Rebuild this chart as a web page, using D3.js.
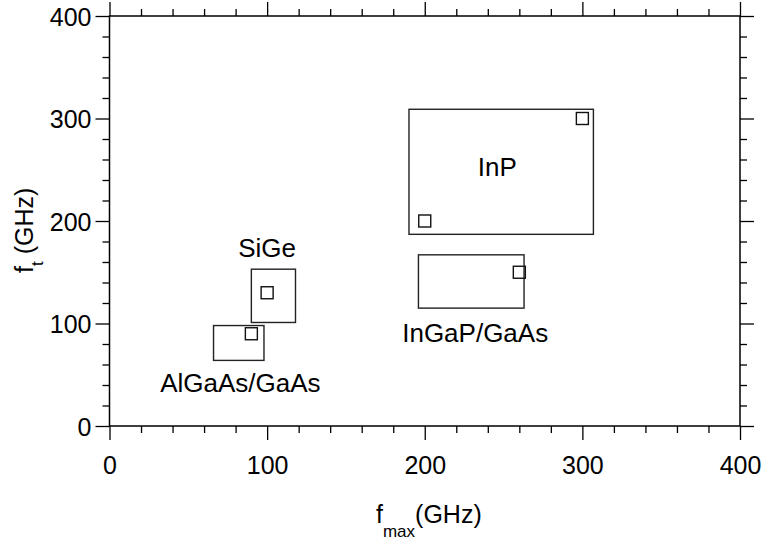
<!DOCTYPE html>
<html>
<head>
<meta charset="utf-8">
<script src="https://cdn.jsdelivr.net/npm/d3@7"></script>
<style>
  body { margin: 0; background: #fff; }
  svg { display: block; font-family: Arial, "Liberation Sans", sans-serif; }
</style>
</head>
<body>
<svg id="chart" width="762" height="542"></svg>
<script>
// technology regions: fmax range (x) and ft range (y), GHz
const groups = ['AlGaAs/GaAs', 'SiGe', 'InP', 'InGaP/GaAs'];
const fmaxLo = [66, 90, 190, 196];
const fmaxHi = [98, 118, 307, 263];
const ftLo = [64, 101, 187, 115];
const ftHi = [98, 153, 309, 167];

// reported devices (fmax, ft)
const pointFmax = [90, 100, 200, 300, 260];
const pointFt = [90, 130, 200, 300, 150];

// label anchors in data units (middle of text, baseline)
const labelFmax = [83, 100, 246, 232];
const labelFt = [33, 165, 244, 82];

const xTicks = [0, 100, 200, 300, 400];

const margin = { left: 109.5, right: 22, top: 16, bottom: 116 };
const W = 762, H = 542;
const iw = W - margin.left - margin.right;
const ih = H - margin.top - margin.bottom;

const svg = d3.select('#chart');
const g = svg.append('g').attr('transform', `translate(${margin.left},${margin.top})`);

const x = d3.scaleLinear().domain([0, 400]).range([0, iw]);
const y = d3.scaleLinear().domain([0, 400]).range([ih, 0]);

const minor = d3.range(0, 401, 20).filter(v => v % 100 !== 0);
const fontSize = 25;

// axes on all four sides, ticks outward
function frameAxis(axis, transform, labels) {
  const a = g.append('g').attr('transform', transform);
  a.call(axis.tickValues(minor).tickSize(7).tickFormat(''));
  a.select('.domain').remove();
  const b = g.append('g').attr('transform', transform);
  b.call(axis.tickValues(xTicks).tickSize(14).tickPadding(6)
    .tickFormat(labels ? d3.format('d') : ''));
  b.select('.domain').remove();
  b.selectAll('text').style('font-size', fontSize + 'px').attr('fill', '#000');
  return b;
}

frameAxis(d3.axisBottom(x), `translate(0,${ih})`, true)
  .selectAll('text').attr('dy', '1.12em');
frameAxis(d3.axisTop(x), 'translate(0,0)', false);
frameAxis(d3.axisLeft(y), 'translate(0,0)', true)
  .selectAll('text').attr('dy', '0.36em').attr('x', -18);
frameAxis(d3.axisRight(y), `translate(${iw},0)`, false);

g.selectAll('.tick line').attr('stroke', '#000').attr('stroke-width', 1.3);

g.append('rect')
  .attr('x', 0).attr('y', 0).attr('width', iw).attr('height', ih)
  .attr('fill', 'none').attr('stroke', '#000').attr('stroke-width', 1.5);

// region boxes
g.selectAll('rect.region')
  .data(groups)
  .enter()
  .append('rect')
  .attr('class', 'region')
  .attr('x', (d, i) => x(fmaxLo[i]))
  .attr('y', (d, i) => y(ftHi[i]))
  .attr('width', (d, i) => x(fmaxHi[i]) - x(fmaxLo[i]))
  .attr('height', (d, i) => y(ftLo[i]) - y(ftHi[i]))
  .attr('fill', 'none')
  .attr('stroke', '#222')
  .attr('stroke-width', 1.4);

// square markers
const s = 12;
g.selectAll('rect.pt')
  .data(pointFmax)
  .enter()
  .append('rect')
  .attr('class', 'pt')
  .attr('x', d => x(d) - s / 2)
  .attr('y', (d, i) => y(pointFt[i]) - s / 2)
  .attr('width', s)
  .attr('height', s)
  .attr('fill', 'none')
  .attr('stroke', '#111')
  .attr('stroke-width', 1.4);

// region labels
g.selectAll('text.lbl')
  .data(groups)
  .enter()
  .append('text')
  .attr('class', 'lbl')
  .attr('x', (d, i) => x(labelFmax[i]))
  .attr('y', (d, i) => y(labelFt[i]))
  .attr('text-anchor', 'middle')
  .style('font-size', '26px')
  .text(d => d);

// axis titles
const xt = svg.append('text')
  .attr('x', 376).attr('y', 523)
  .style('font-size', fontSize + 'px');
xt.append('tspan').text('f');
xt.append('tspan').attr('dy', 14).style('font-size', '17px').text('max');
xt.append('tspan').attr('dy', -14).text('(GHz)');

const yt = svg.append('text')
  .attr('transform', 'translate(33,273) rotate(-90)')
  .style('font-size', fontSize + 'px');
yt.append('tspan').text('f');
yt.append('tspan').attr('dy', 10).style('font-size', '17px').text('t');
yt.append('tspan').attr('dy', -10).text(' (GHz)');
</script>
</body>
</html>
